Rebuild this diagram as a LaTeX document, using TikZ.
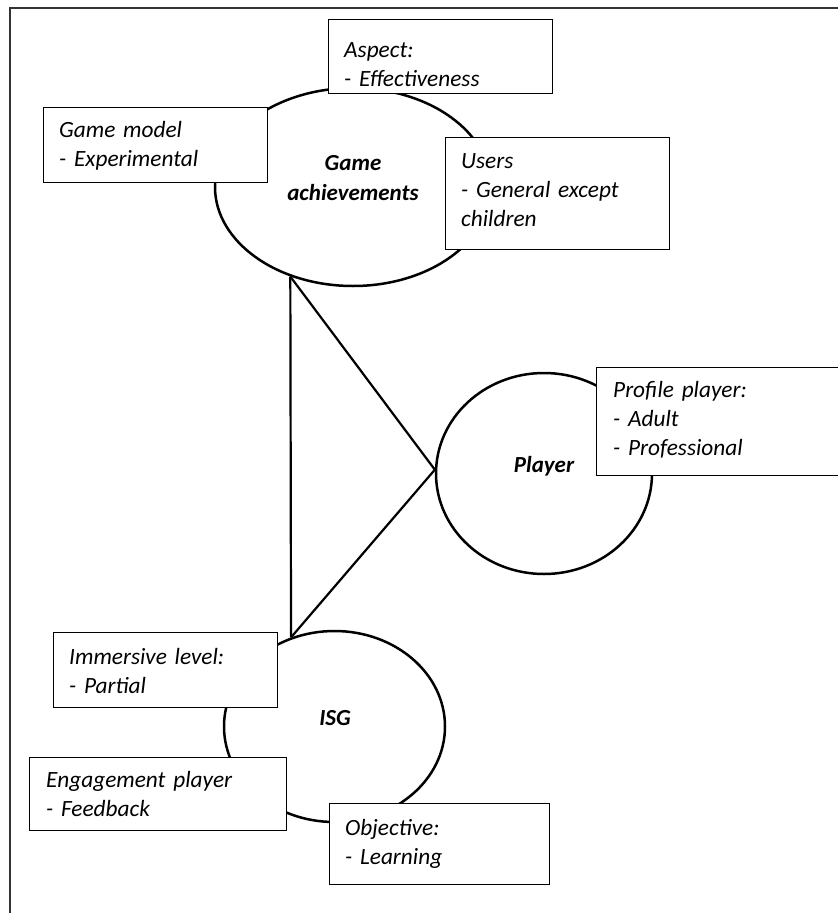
\documentclass[tikz,border=0pt]{standalone}
\usepackage{fontspec}
\setmainfont{Carlito}
\usetikzlibrary{shapes.geometric}
\begin{document}
\begin{tikzpicture}[x=1pt,y=-1pt,
  oval/.style={ellipse, draw, line width=2.5pt, fill=white, inner sep=0pt},
  infobox/.style={draw, line width=1.2pt, fill=white, anchor=north west, inner sep=0pt},
  txt/.style={anchor=base west, align=left, text width=240pt, inner sep=0pt, font=\fontsize{23.3}{29}\selectfont\itshape},
  ttl/.style={anchor=base, align=center, inner sep=0pt, font=\fontsize{23}{30}\selectfont\bfseries\itshape},
  link/.style={line width=2.2pt}]
\useasboundingbox (0,0) rectangle (838,913);
\draw[black!80, line width=1.5pt] (10,913) -- (10,8) -- (838,8);

% ovals
\node[oval, minimum width=276pt, minimum height=198pt] (game) at (353,187) {};
\node[oval, minimum width=216pt, minimum height=201pt] (player) at (544,473.5) {};
\node[oval, minimum width=221pt, minimum height=191pt] (isg) at (334.5,726.5) {};

% connectors
\draw[link] (game.235.6) -- (isg.116.2);
\draw[link] (game.235.6) -- (player.178) -- (isg.116.2);

% titles (base = last line)
\node[ttl] (tgame) at (353,200) {Game\\achievements};
\node[ttl] (tplayer) at (544,472) {Player};
\node[ttl] (tisg) at (335,725) {ISG};

% boxes
\node[infobox, minimum width=224pt, minimum height=74pt] (aspectbox) at (328,19) {};
\node[txt] (aspecttxt) at (344,57) {Aspect:\\- Effectiveness};

\node[infobox, minimum width=224pt, minimum height=75pt] (gmbox) at (43,107) {};
\node[txt] (gmtxt) at (59,137) {Game model\\- Experimental};

\node[infobox, minimum width=224pt, minimum height=112pt] (usersbox) at (445,137) {};
\node[txt] (userstxt) at (461,168) {Users\\- General except\\children};

\node[infobox, minimum width=260pt, minimum height=108pt] (profbox) at (596,367) {};
\node[txt] (proftxt) at (613,397) {Profile player:\\- Adult\\- Professional};

\node[infobox, minimum width=224pt, minimum height=75pt] (immbox) at (53,632) {};
\node[txt] (immtxt) at (69,664) {Immersive level:\\- Partial};

\node[infobox, minimum width=257pt, minimum height=73pt] (engbox) at (29,757) {};
\node[txt] (engtxt) at (46,787) {Engagement player\\- Feedback};

\node[infobox, minimum width=220pt, minimum height=81pt] (objbox) at (329,803) {};
\node[txt] (objtxt) at (345,835) {Objective:\\- Learning};
\end{tikzpicture}
\end{document}
